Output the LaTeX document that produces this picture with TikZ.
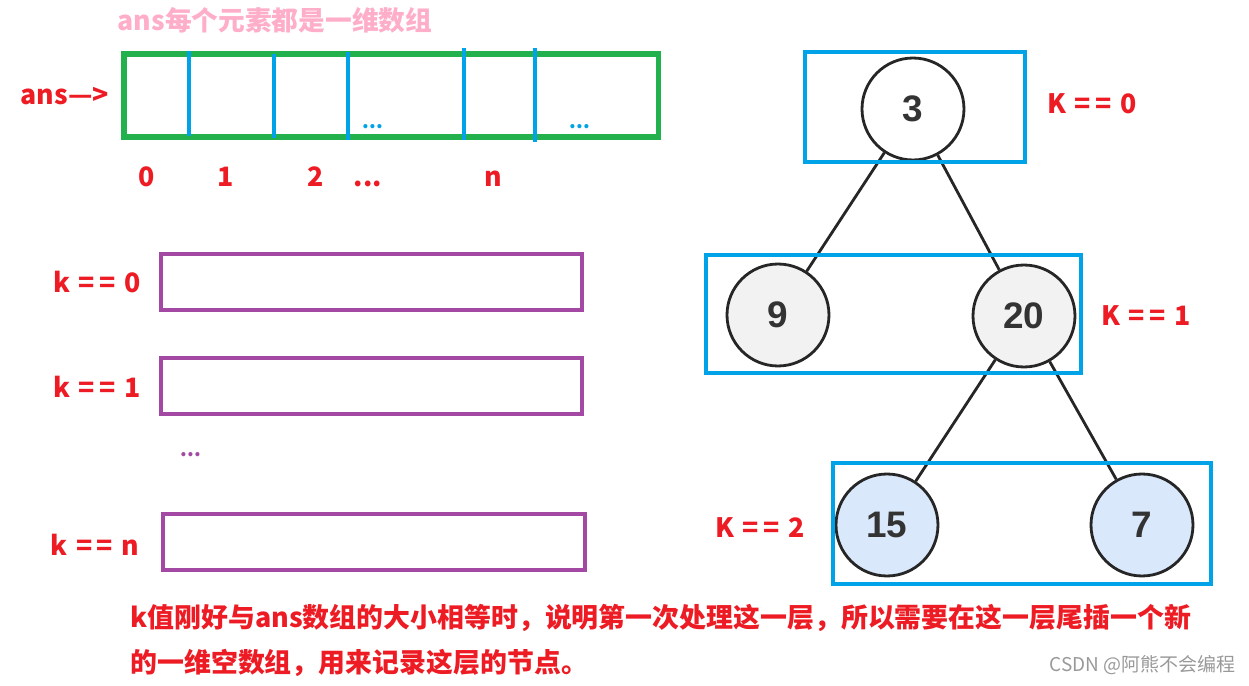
\documentclass[tikz,border=0pt]{standalone}
\usepackage{fontspec}
\setmainfont{Liberation Sans}
\newfontfamily\cjk{Noto Sans CJK SC}
\usepackage{tikz}
\usetikzlibrary{positioning}
\definecolor{pred}{HTML}{ED1C24}
\definecolor{ppink}{HTML}{FFAEC9}
\definecolor{pgreen}{HTML}{22B14C}
\definecolor{pblue}{HTML}{00A2E8}
\definecolor{ppurple}{HTML}{A349A4}
\definecolor{pgray}{HTML}{F2F2F2}
\definecolor{plblue}{HTML}{DAE8FC}
\newcommand\eqeq{\kern5pt=\kern2.5pt=\kern5pt}
\tikzset{
  lab/.style={text=pred,font=\cjk\bfseries\fontsize{15.2}{18}\selectfont,inner sep=0pt},
  note/.style={lab,font=\cjk\bfseries\fontsize{15.32}{18}\selectfont,anchor=west},
  dots/.style={font=\cjk\bfseries\fontsize{11}{12}\selectfont,inner sep=0pt},
  div/.style={draw=pblue,line width=2.3pt},
  row/.style={draw=ppurple,line width=2.4pt},
  lvl/.style={draw=pblue,line width=2.4pt},
  tnode/.style={circle,draw=black!85,line width=1.6pt,minimum size=2.04cm,inner sep=0pt,
    font=\bfseries\fontsize{21}{22}\selectfont,text=black!80},
  edge/.style={draw=black!85,line width=1.6pt}
}
\begin{document}
\begin{tikzpicture}[x=0.02cm,y=-0.02cm]
\useasboundingbox (0,0) rectangle (1249,686);

% the ans array
\node[lab,text=ppink] (T) at (275,20) {ans每个元素都是一维数组};
\node[lab] (A) at (65,96) {ans—>};
\draw[draw=pgreen,line width=2.85pt] (124,54) rectangle (658,137);
\foreach \x/\a/\b in {189/51/136,274/54/138,348/52/140,464/48/140,535/48/142}
  \draw[div] (\x,\a) -- (\x,\b);
\node[dots,text=pblue] (d1) at (373,127) {...};
\node[dots,text=pblue] (d2) at (580,127) {...};
\foreach \x/\t [count=\i] in {147/0,226/1,316/2,493/n}
  \node[lab,anchor=base] (i\i) at (\x,187) {\t};
\node[lab,anchor=base] (i5) at (368,187) {...};

% the rows for each k
\draw[row] (161,254) rectangle (582,310);
\draw[row] (161,358) rectangle (582,414);
\draw[row] (163,514) rectangle (585,570);
\node[lab] (k0) at (97,282) {k\eqeq 0};
\node[lab] (k1) at (97,387) {k\eqeq 1};
\node[lab] (kn) at (95,545) {k\eqeq n};
\node[dots,text=ppurple] (d3) at (191,455) {...};

% the tree
\node[tnode,fill=white] (n3) at (913,109) {3};
\node[tnode,fill=pgray] (n9) at (778,315) {9};
\node[tnode,fill=pgray] (n20) at (1024,316) {20};
\node[tnode,fill=plblue] (n15) at (887,525) {15};
\node[tnode,fill=plblue] (n7) at (1142,525) {7};
\draw[edge] (n3) -- (n9);
\draw[edge] (n3) -- (n20);
\draw[edge] (n20) -- (n15);
\draw[edge] (n20) -- (n7);
\draw[lvl] (805,52) rectangle (1025,162);
\draw[lvl] (706,255) rectangle (1081,373);
\draw[lvl] (833,463) rectangle (1211,584);
\node[lab] (K0) at (1092,104) {K\eqeq 0};
\node[lab] (K1) at (1146,316) {K\eqeq 1};
\node[lab] (K2) at (760,528) {K\eqeq 2};

% note
\node[note] (L1) at (130,618) {k值刚好与ans数组的大小相等时，说明第一次处理这一层，所以需要在这一层尾插一个新};
\node[note] (L2) at (130,663) {的一维空数组，用来记录这层的节点。};
\node[font=\cjk\fontsize{10.8}{11}\selectfont,text=black!40,inner sep=0pt,anchor=east] (W) at (1236,665) {CSDN @阿熊不会编程};
\end{tikzpicture}
\end{document}
